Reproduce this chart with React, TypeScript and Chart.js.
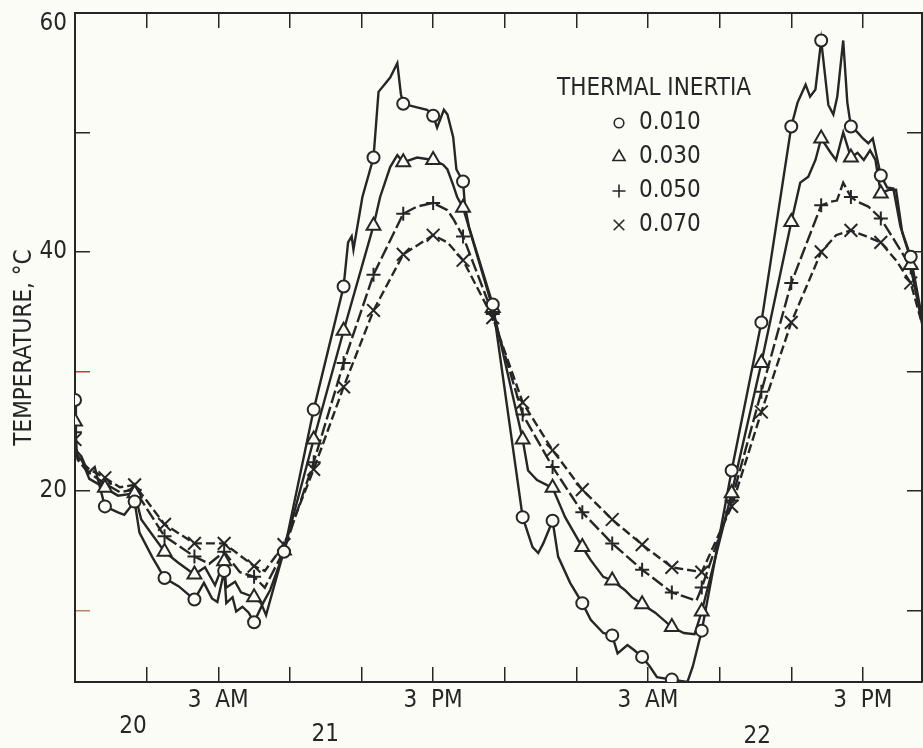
import React, { useEffect, useRef } from 'react';
import { Chart, registerables } from 'chart.js';

Chart.register(...registerables);

const FONT = "'Liberation Sans Narrow', 'DejaVu Sans Condensed', 'Liberation Sans', Arial, sans-serif";
const INK = '#262626';
const PAPER = '#fcfcf6';
const FS = 24;

// ---- axes ----
const xMin = -5;
const xMax = 42.3;
const yMin = 4;
const yMax = 60;
const tickHours = [-1, 3, 7, 11, 15, 19, 23, 27, 31, 35, 39];
const tickLabels = ['', '3  AM', '', '', '3  PM', '', '', '3  AM', '', '', '3  PM'];
const yTicks = [10, 20, 30, 40, 50, 60];
const yTickLabels = ['', '20', '', '40', '', '60'];
const dayLabelHours = [-1.76, 8.97, 33.1];
const dayLabels = ['20', '21', '22'];
const yTitle = 'TEMPERATURE, \u00B0C';
const legendTitle = 'THERMAL INERTIA';
const seriesLabels = ['0.010', '0.030', '0.050', '0.070'];

// ---- marker samples (hours, °C) ----
const markerHours = [-5, -3.33, -1.67, 0, 1.67, 3.33, 5, 6.67, 8.33, 10, 11.67, 13.33, 15, 16.67, 18.33, 20, 21.67, 23.33, 25, 26.67, 28.33, 30, 31.67, 33.33, 35, 36.67, 38.33, 40, 41.67];
const markers010 = [27.6, 18.7, 19.1, 12.7, 10.9, 13.3, 9.0, 14.9, 26.8, 37.1, 47.9, 52.4, 51.4, 45.9, 35.6, 17.8, 17.5, 10.6, 7.9, 6.1, 4.2, 8.3, 21.7, 34.1, 50.5, 57.7, 50.5, 46.4, 39.6];
const markers030 = [25.8, 20.25, 19.8, 14.9, 13.0, 14.1, 11.1, 15.0, 24.3, 33.4, 42.2, 47.5, 47.7, 43.7, 35.3, 24.3, 20.25, 15.3, 12.5, 10.5, 8.6, 9.9, 19.8, 30.7, 42.5, 49.5, 47.9, 44.9, 38.9];
const markers050 = [24.9, 20.6, 20.1, 16.2, 14.5, 14.9, 12.8, 15.0, 22.4, 30.7, 38.1, 43.2, 44.1, 41.3, 34.8, 26.4, 22.0, 18.2, 15.6, 13.4, 11.5, 11.9, 19.2, 28.3, 37.4, 43.9, 44.6, 42.8, 38.7];
const markers070 = [24.3, 21.1, 20.5, 17.2, 15.6, 15.6, 13.7, 15.5, 21.8, 28.7, 35.1, 39.8, 41.4, 39.3, 34.5, 27.4, 23.4, 20.1, 17.6, 15.5, 13.6, 13.2, 18.7, 26.6, 34.1, 40.0, 41.8, 40.8, 37.4];

// ---- continuous traces [hour, °C] ----
const line010: [number, number][] = [
  [-5, 27.6], [-4.95, 23.4], [-4.65, 22.9], [-4.25, 21.5], [-3.9, 22.0], [-3.33, 18.7], [-2.6, 18.2], [-2.25, 18.0],
  [-1.67, 19.1], [-1.4, 16.5], [-0.7, 14.5], [0, 12.7], [0.8, 12.0], [1.67, 10.9], [2.2, 12.3], [2.65, 11.0],
  [2.95, 10.7], [3.33, 13.3], [3.45, 10.6], [3.8, 11.1], [4.0, 9.9], [4.35, 10.3], [4.7, 9.8], [5.0, 9.0],
  [5.5, 10.6], [5.9, 11.7], [6.67, 14.9], [8.33, 26.8], [10, 37.1], [10.25, 40.8], [10.45, 41.3], [10.55, 40.2],
  [11.05, 44.6], [11.67, 47.9], [11.95, 53.4], [12.6, 54.6], [13.0, 55.8], [13.2, 53.2], [13.33, 52.4], [14.1, 52.1],
  [14.66, 51.9], [15, 51.4], [15.22, 50.4], [15.6, 51.9], [15.8, 51.5], [16.12, 49.6], [16.3, 46.9], [16.67, 45.9],
  [16.78, 43.8], [17.0, 42.1], [18.33, 35.6], [20, 17.8], [20.55, 15.3], [20.87, 14.8], [21.15, 15.6], [21.67, 17.5],
  [21.98, 14.5], [22.65, 12.3], [23.33, 10.6], [23.8, 9.2], [24.5, 8.1], [25, 7.9], [25.3, 6.4], [25.85, 7.1],
  [26.2, 6.7], [26.67, 6.1], [27.1, 5.3], [27.5, 4.4], [28.33, 4.2], [29.2, 4.0], [29.5, 5.3], [30, 8.3],
  [31.67, 21.7], [33.33, 34.1], [35, 50.5], [35.35, 52.5], [35.8, 54.0], [36.05, 53.0], [36.35, 53.6], [36.67, 57.7],
  [37.07, 52.3], [37.35, 51.5], [37.57, 53.0], [37.9, 57.7], [38.13, 52.5], [38.33, 50.5], [38.7, 50.0], [39.0, 49.5],
  [39.3, 49.1], [39.55, 49.5], [40, 46.4], [40.35, 45.4], [40.7, 45.3], [41.1, 42.1], [41.67, 39.6], [42.3, 34.5],
];
const line030: [number, number][] = [
  [-5, 25.8], [-4.9, 23.0], [-4.6, 22.5], [-4.2, 21.0], [-3.33, 20.25], [-2.6, 19.6], [-1.67, 19.8], [-1.3, 17.6],
  [0, 14.9], [0.75, 14.0], [1.67, 13.0], [2.26, 13.6], [2.82, 12.1], [3.33, 14.1], [3.44, 11.9], [3.94, 12.4],
  [4.27, 11.5], [5, 11.1], [5.39, 10.6], [5.67, 9.6], [6.67, 15.0], [8.33, 24.3], [10, 33.4], [11.67, 42.2],
  [12.04, 44.6], [12.6, 47.1], [13.0, 48.1], [13.33, 47.5], [14.1, 47.9], [15, 47.7], [15.56, 47.3], [15.8, 46.9],
  [16.12, 45.6], [16.34, 44.6], [16.67, 43.7], [18.33, 35.3], [20, 24.3], [20.3, 21.7], [20.8, 20.9], [21.67, 20.25],
  [22.37, 17.8], [23.33, 15.3], [23.8, 14.2], [24.5, 12.8], [25, 12.5], [25.7, 11.7], [26.1, 11.1], [26.67, 10.5],
  [27.4, 9.8], [28.33, 8.6], [29.0, 8.1], [29.6, 8.0], [30, 9.9], [31.67, 19.8], [33.33, 30.7], [35, 42.5],
  [35.5, 45.8], [35.95, 46.3], [36.35, 47.7], [36.67, 49.5], [37.2, 48.3], [37.5, 47.7], [37.9, 50.0], [38.33, 47.9],
  [38.7, 48.3], [39.05, 47.7], [39.4, 48.5], [39.7, 47.7], [40, 44.9], [40.45, 45.2], [40.85, 45.2], [41.2, 41.6],
  [41.5, 40.2], [41.67, 38.9], [42.3, 34.0],
];
const line050: [number, number][] = [
  [-5, 24.9], [-4.85, 22.6], [-4.3, 21.6], [-3.33, 20.6], [-2.5, 19.9], [-1.67, 20.1], [0, 16.2], [1.67, 14.5],
  [2.5, 13.9], [3.33, 14.9], [4.2, 13.2], [5, 12.8], [5.6, 11.9], [6.67, 15.0], [8.33, 22.4], [10, 30.7],
  [11.67, 38.1], [13.33, 43.2], [14.1, 43.8], [15, 44.1], [15.8, 43.5], [16.15, 42.7], [16.67, 41.3], [18.33, 34.8],
  [20, 26.4], [21.67, 22.0], [23.33, 18.2], [25, 15.6], [26.67, 13.4], [28.33, 11.5], [29.7, 10.8], [30, 11.9],
  [31.67, 19.2], [33.33, 28.3], [35, 37.4], [36.67, 43.9], [37.2, 44.2], [37.55, 44.3], [37.9, 45.8], [38.33, 44.6],
  [38.7, 44.2], [39.3, 43.8], [40, 42.8], [40.5, 41.6], [41.2, 39.9], [41.67, 38.7], [42.3, 34.3],
];
const line070: [number, number][] = [
  [-5, 24.3], [-4.85, 22.7], [-4.2, 21.8], [-3.33, 21.1], [-2.5, 20.3], [-1.67, 20.5], [0, 17.2], [1.67, 15.6],
  [3.33, 15.6], [5, 13.7], [5.6, 13.3], [6.67, 15.5], [8.33, 21.8], [10, 28.7], [11.67, 35.1], [13.33, 39.8],
  [15, 41.4], [15.8, 40.8], [16.67, 39.3], [18.33, 34.5], [20, 27.4], [21.67, 23.4], [23.33, 20.1], [25, 17.6],
  [26.67, 15.5], [28.33, 13.6], [30, 13.2], [31.67, 18.7], [33.33, 26.6], [35, 34.1], [36.67, 40.0], [37.5, 41.4],
  [38.33, 41.8], [39.2, 41.3], [40, 40.8], [40.9, 39.2], [41.67, 37.4], [42.3, 34.0],
];

// ---- styles ----
const pointStyles = ['circle', 'triangle', 'cross', 'crossRot'];
const pointRadii = [6, 8, 7, 9];
const legendRadii = [4.8, 7, 6.5, 7.5];
const dashes: number[][] = [[], [], [13, 4], [9, 4]];

function drawMarker(ctx: CanvasRenderingContext2D, style: string, x: number, y: number, r: number) {
  ctx.beginPath();
  if (style === 'circle') {
    ctx.arc(x, y, r, 0, Math.PI * 2);
    ctx.fillStyle = PAPER;
    ctx.fill();
    ctx.stroke();
  } else if (style === 'triangle') {
    for (let i = 0; i < 3; i++) {
      const a = (i * 2 * Math.PI) / 3;
      const px = x + Math.sin(a) * r;
      const py = y - Math.cos(a) * r;
      if (i === 0) ctx.moveTo(px, py);
      else ctx.lineTo(px, py);
    }
    ctx.closePath();
    ctx.fillStyle = PAPER;
    ctx.fill();
    ctx.stroke();
  } else if (style === 'cross') {
    ctx.moveTo(x - r, y);
    ctx.lineTo(x + r, y);
    ctx.moveTo(x, y - r);
    ctx.lineTo(x, y + r);
    ctx.stroke();
  } else {
    const d = r * Math.SQRT1_2;
    ctx.moveTo(x - d, y - d);
    ctx.lineTo(x + d, y + d);
    ctx.moveTo(x - d, y + d);
    ctx.lineTo(x + d, y - d);
    ctx.stroke();
  }
}

const paperPlugin = {
  id: 'paper',
  beforeDraw(chart: any) {
    const { ctx, width, height } = chart;
    ctx.save();
    ctx.fillStyle = PAPER;
    ctx.fillRect(0, 0, width, height);
    ctx.restore();
  },
};

const legendPlugin = {
  id: 'inertiaLegend',
  afterDraw(chart: any) {
    const { ctx, chartArea } = chart;
    const left = chartArea.left + 482;
    const top = chartArea.top;
    ctx.save();
    ctx.fillStyle = INK;
    ctx.strokeStyle = INK;
    ctx.lineWidth = 1.6;
    ctx.font = `${FS}px ${FONT}`;
    ctx.textBaseline = 'middle';
    ctx.textAlign = 'left';
    ctx.fillText(legendTitle, left, top + 76);
    seriesLabels.forEach((lab, i) => {
      const cy = top + 110 + i * 34;
      drawMarker(ctx, pointStyles[i], left + 62, cy, legendRadii[i]);
      ctx.fillStyle = INK;
      ctx.fillText(lab, left + 82, cy);
    });
    ctx.restore();
  },
};

const dayLabelDrops = [45, 53, 55];
const dayPlugin = {
  id: 'dayLabels',
  afterDraw(chart: any) {
    const { ctx, chartArea, scales } = chart;
    ctx.save();
    ctx.fillStyle = INK;
    ctx.font = `${FS}px ${FONT}`;
    ctx.textAlign = 'center';
    ctx.textBaseline = 'middle';
    dayLabels.forEach((lab, i) => {
      const x = scales.x.getPixelForValue(dayLabelHours[i]);
      ctx.fillText(lab, x, chartArea.bottom + dayLabelDrops[i]);
    });
    ctx.restore();
  },
};

export default function App() {
  const ref = useRef<HTMLCanvasElement>(null);

  useEffect(() => {
    if (!ref.current) return;
    const markerSets = [markers010, markers030, markers050, markers070];
    const lineSets = [line010, line030, line050, line070];
    const datasets: any[] = [];
    markerSets.forEach((m, i) => {
      datasets.push({
        label: seriesLabels[i],
        data: markerHours.map((h, j) => ({ x: h, y: m[j] })),
        showLine: false,
        pointStyle: pointStyles[i],
        pointRadius: pointRadii[i],
        pointBorderWidth: 2,
        pointBorderColor: INK,
        pointBackgroundColor: PAPER,
        order: 0,
      });
    });
    lineSets.forEach((l, i) => {
      datasets.push({
        label: seriesLabels[i] + ' trace',
        data: l.map(([x, y]) => ({ x, y })),
        showLine: true,
        pointRadius: 0,
        borderColor: INK,
        borderWidth: 2.4,
        borderDash: dashes[i],
        tension: 0,
        order: 1,
      });
    });

    const noPad = (s: any) => {
      s.paddingTop = 0;
      s.paddingBottom = 0;
      s.paddingLeft = 0;
      s.paddingRight = 0;
    };
    const tickFont = { family: FONT, size: FS };

    const chart = new Chart(ref.current, {
      type: 'scatter',
      data: { datasets },
      plugins: [paperPlugin, legendPlugin, dayPlugin],
      options: {
        responsive: false,
        animation: false,
        layout: { padding: 0, autoPadding: false },
        plugins: { legend: { display: false }, tooltip: { enabled: false } },
        scales: {
          x: {
            type: 'linear',
            position: 'bottom',
            min: xMin,
            max: xMax,
            afterBuildTicks: (s: any) => { s.ticks = tickHours.map((v) => ({ value: v })); },
            afterFit: (s: any) => { s.height = 66; noPad(s); },
            ticks: {
              autoSkip: false,
              maxRotation: 0,
              padding: 19,
              color: INK,
              font: tickFont,
              callback: (v: any) => { const i = tickHours.indexOf(v); return i >= 0 ? tickLabels[i] : ''; },
            },
            grid: { drawOnChartArea: false, drawTicks: true, tickLength: -15, color: INK, lineWidth: 1.5 },
            border: { display: true, color: INK, width: 2 },
          },
          x2: {
            type: 'linear',
            position: 'top',
            min: xMin,
            max: xMax,
            afterBuildTicks: (s: any) => { s.ticks = tickHours.map((v) => ({ value: v })); },
            afterFit: (s: any) => { s.height = 13; noPad(s); },
            ticks: { display: false },
            grid: { drawOnChartArea: false, drawTicks: true, tickLength: -15, color: INK, lineWidth: 1.5 },
            border: { display: true, color: INK, width: 2 },
          },
          y: {
            type: 'linear',
            position: 'left',
            min: yMin,
            max: yMax,
            afterBuildTicks: (s: any) => { s.ticks = yTicks.map((v) => ({ value: v })); },
            afterFit: (s: any) => { s.width = 75; noPad(s); },
            ticks: {
              autoSkip: false,
              padding: 23,
              color: INK,
              font: { family: FONT, size: FS, lineHeight: 0.9 },
              callback: (v: any) => {
                const i = yTicks.indexOf(v);
                if (i < 0) return '';
                if (v === yMax) return ['', yTickLabels[i]];
                return yTickLabels[i];
              },
            },
            title: {
              display: true,
              text: yTitle,
              color: INK,
              font: { family: FONT, size: FS },
              padding: { top: 10, bottom: 0 },
            },
            grid: {
              drawOnChartArea: false,
              drawTicks: true,
              tickLength: -15,
              lineWidth: 1.5,
              color: (c: any) => (c.tick && c.tick.value === 30 ? '#b8423a' : c.tick && c.tick.value === 10 ? '#c0805a' : INK),
            },
            border: { display: true, color: INK, width: 2 },
          },
          y2: {
            type: 'linear',
            position: 'right',
            min: yMin,
            max: yMax,
            afterBuildTicks: (s: any) => { s.ticks = yTicks.filter((v) => v < yMax).map((v) => ({ value: v })); },
            afterFit: (s: any) => { s.width = 1; noPad(s); },
            ticks: { display: false },
            grid: { drawOnChartArea: false, drawTicks: true, tickLength: -15, color: INK, lineWidth: 1.5 },
            border: { display: true, color: INK, width: 2 },
          },
        },
      } as any,
    });
    return () => chart.destroy();
  }, []);

  return (
    <div style={{ position: 'fixed', left: 0, top: 0, width: 923, height: 748, background: PAPER, overflow: 'hidden' }}>
      <canvas ref={ref} width={923} height={748} style={{ display: 'block' }} />
    </div>
  );
}
